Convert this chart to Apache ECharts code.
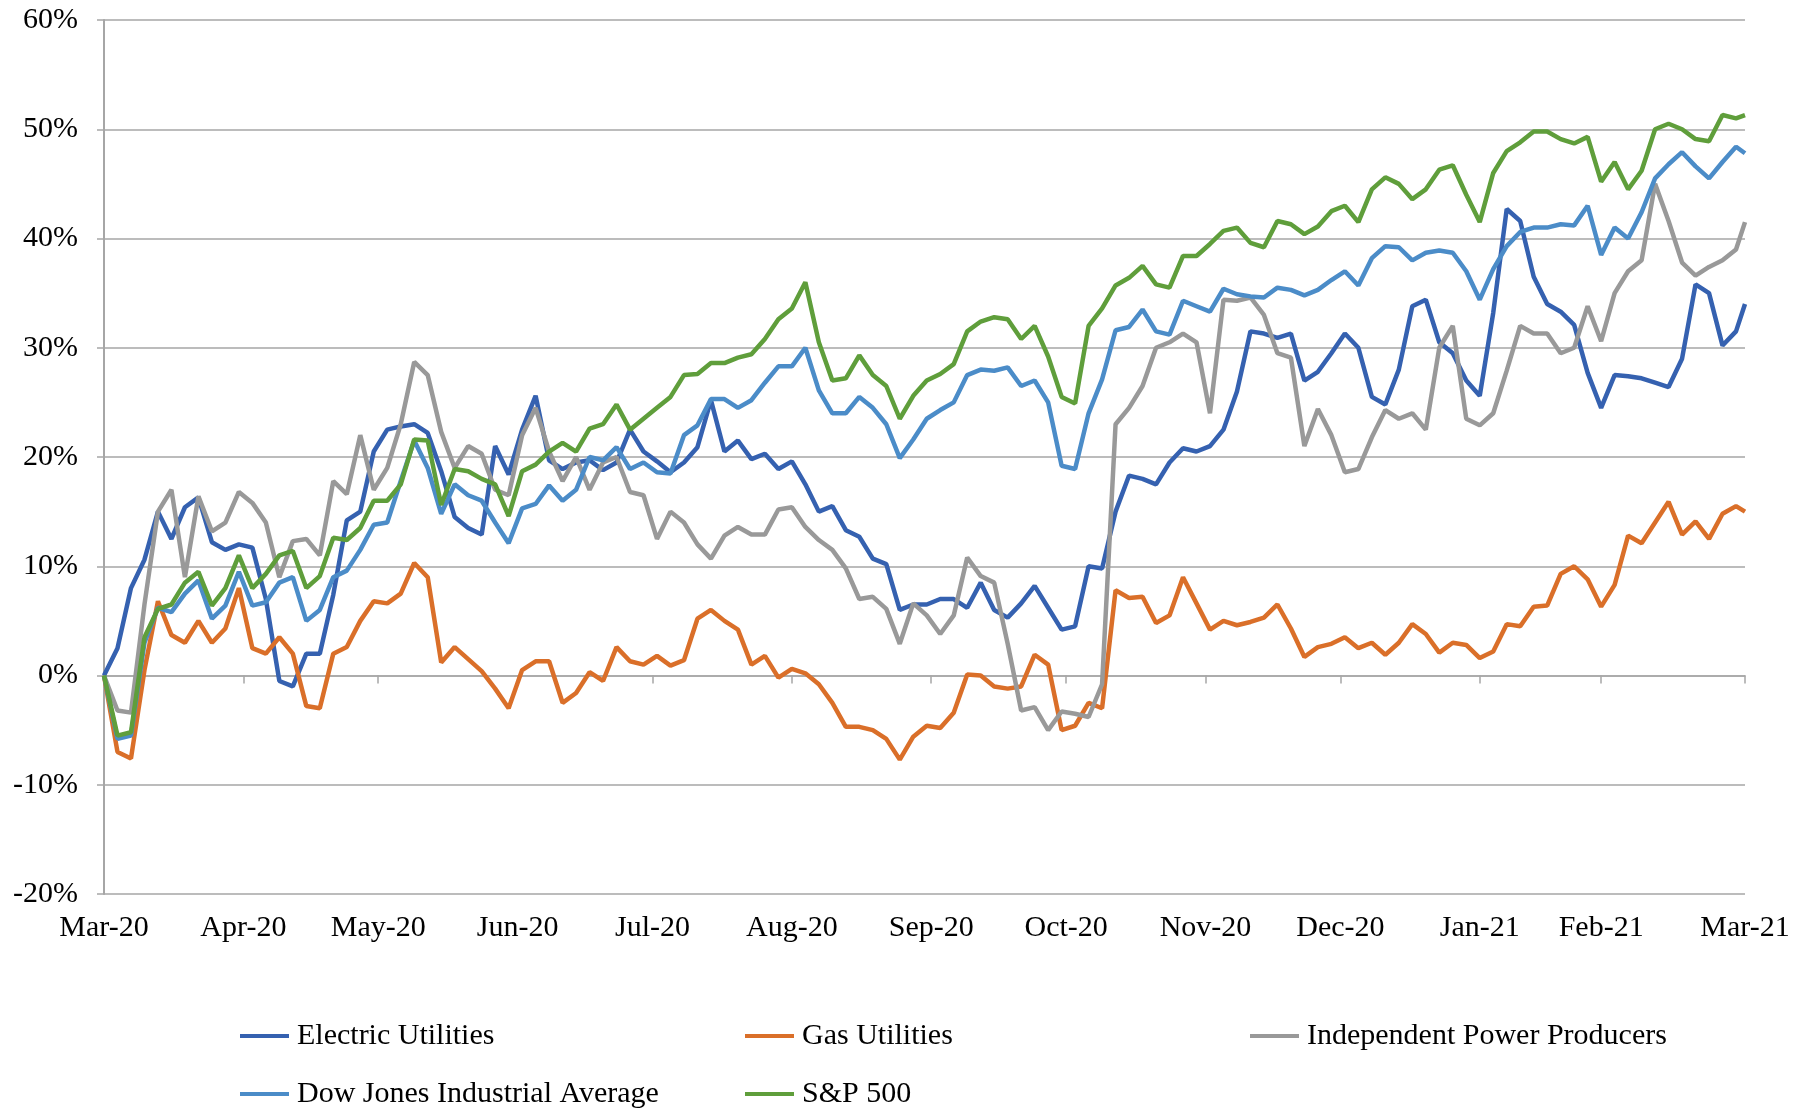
<!DOCTYPE html>
<html>
<head>
<meta charset="utf-8">
<title>Utilities vs market</title>
<script src="https://cdn.jsdelivr.net/npm/echarts@6/dist/echarts.min.js"></script>
<style>
    html, body { margin: 0; padding: 0; background: #fff; }
    #mainView { width: 1810px; height: 1111px; }
</style>
</head>
<body>
<div id="mainView"></div>
<script>
// x = days since 1 Mar 2020, one reading every 3 days (last one on 1 Mar 2021)
var days = [];
for (var d = 0; d <= 363; d += 3) days.push(d);
days.push(365);

var tickDays = [0, 31, 61, 92, 122, 153, 184, 214, 245, 275, 306, 333, 365];
var tickLabels = ['Mar-20', 'Apr-20', 'May-20', 'Jun-20', 'Jul-20', 'Aug-20', 'Sep-20',
    'Oct-20', 'Nov-20', 'Dec-20', 'Jan-21', 'Feb-21', 'Mar-21'];

var yTicks = [-20, -10, 0, 10, 20, 30, 40, 50, 60];

var names = ['Electric Utilities', 'Gas Utilities', 'Independent Power Producers',
    'Dow Jones Industrial Average', 'S&P 500'];

// cumulative return, %
var electric = [0, 2.5, 8, 10.6, 15, 12.5, 15.4, 16.3, 12.2, 11.5,
    12, 11.7, 7, -0.5, -1, 2, 2, 7.4, 14.2, 15,
    20.5, 22.5, 22.8, 23, 22.2, 18.7, 14.5, 13.5, 12.9, 21,
    18.4, 22.5, 25.6, 19.7, 18.9, 19.5, 19.7, 18.8, 19.5, 22.5,
    20.5, 19.6, 18.6, 19.5, 20.9, 25.2, 20.5, 21.5, 19.8, 20.3,
    18.9, 19.6, 17.5, 15, 15.5, 13.3, 12.7, 10.7, 10.2, 6,
    6.5, 6.5, 7, 7, 6.2, 8.5, 6, 5.3, 6.6, 8.2,
    6.2, 4.2, 4.5, 10, 9.8, 15, 18.3, 18, 17.5, 19.5,
    20.8, 20.5, 21, 22.5, 26, 31.5, 31.3, 30.9, 31.3, 27,
    27.8, 29.5, 31.3, 30, 25.5, 24.8, 28, 33.8, 34.4, 30.5,
    29.5, 27, 25.6, 33.2, 42.7, 41.6, 36.5, 34, 33.3, 32.1,
    27.7, 24.5, 27.5, 27.4, 27.2, 26.8, 26.4, 29, 35.8, 35,
    30.2, 31.5, 34];

var gas = [0, -7, -7.6, 0.5, 6.8, 3.7, 3, 5, 3, 4.3,
    8, 2.5, 2, 3.5, 2, -2.8, -3, 2, 2.6, 5,
    6.8, 6.6, 7.5, 10.3, 9, 1.2, 2.6, 1.5, 0.4, -1.2,
    -3, 0.5, 1.3, 1.3, -2.5, -1.6, 0.3, -0.5, 2.6, 1.3,
    1, 1.8, 0.9, 1.4, 5.2, 6, 5, 4.2, 1, 1.8,
    -0.2, 0.6, 0.2, -0.8, -2.5, -4.7, -4.7, -5, -5.8, -7.7,
    -5.6, -4.6, -4.8, -3.4, 0.1, 0, -1, -1.2, -1, 1.9,
    1, -5, -4.6, -2.5, -3, 7.8, 7.1, 7.2, 4.8, 5.5,
    9, 6.6, 4.2, 5, 4.6, 4.9, 5.3, 6.5, 4.3, 1.7,
    2.6, 2.9, 3.5, 2.5, 3, 1.9, 3, 4.7, 3.8, 2.1,
    3, 2.8, 1.6, 2.2, 4.7, 4.5, 6.3, 6.4, 9.3, 10,
    8.8, 6.3, 8.3, 12.8, 12.1, 14, 15.9, 12.9, 14.1, 12.5,
    14.8, 15.5, 15];

var ipp = [0, -3.2, -3.4, 6.5, 15, 17, 9, 16.4, 13.2, 14,
    16.8, 15.8, 14, 9, 12.3, 12.5, 11, 17.8, 16.6, 22,
    17, 19, 23, 28.7, 27.5, 22.3, 19, 21, 20.3, 17,
    16.5, 22, 24.5, 20.5, 17.8, 20, 17, 19.5, 20, 16.8,
    16.5, 12.5, 15, 14, 12, 10.7, 12.8, 13.6, 12.9, 12.9,
    15.2, 15.4, 13.6, 12.4, 11.5, 9.8, 7, 7.2, 6.1, 2.9,
    6.6, 5.5, 3.8, 5.5, 10.8, 9.1, 8.5, 2.9, -3.2, -2.9,
    -5, -3.3, -3.5, -3.8, -0.8, 23, 24.5, 26.5, 30, 30.5,
    31.3, 30.5, 24, 34.4, 34.3, 34.6, 33, 29.5, 29.1, 21,
    24.4, 22, 18.6, 18.9, 21.8, 24.3, 23.5, 24, 22.5, 30,
    32, 23.5, 22.9, 24, 27.9, 32, 31.3, 31.3, 29.5, 30,
    33.8, 30.6, 35, 37, 38, 45, 41.6, 37.8, 36.6, 37.4,
    38, 39, 41.5];

var dow = [0, -5.8, -5.5, 3, 6.2, 5.8, 7.5, 8.7, 5.2, 6.4,
    9.5, 6.4, 6.7, 8.5, 9, 5, 6, 9, 9.6, 11.5,
    13.8, 14, 17.8, 21.5, 19, 14.8, 17.5, 16.5, 16, 14,
    12.1, 15.3, 15.7, 17.4, 16, 17, 20, 19.7, 20.9, 18.9,
    19.5, 18.6, 18.5, 22, 22.9, 25.3, 25.3, 24.5, 25.2, 26.8,
    28.3, 28.3, 30, 26.1, 24, 24, 25.5, 24.5, 23, 19.9,
    21.6, 23.5, 24.3, 25, 27.5, 28, 27.9, 28.2, 26.5, 27,
    25, 19.2, 18.9, 24, 27.1, 31.6, 31.9, 33.5, 31.5, 31.2,
    34.3, 33.8, 33.3, 35.4, 34.9, 34.7, 34.6, 35.5, 35.3, 34.8,
    35.3, 36.2, 37, 35.7, 38.2, 39.3, 39.2, 38, 38.7, 38.9,
    38.7, 37, 34.4, 37.2, 39.3, 40.6, 41, 41, 41.3, 41.2,
    43, 38.5, 41, 40, 42.4, 45.5, 46.8, 47.9, 46.6, 45.5,
    47, 48.4, 47.8];

var sp500 = [0, -5.5, -5.2, 3.5, 6.1, 6.5, 8.5, 9.5, 6.4, 8,
    11, 8, 9.3, 11, 11.4, 8, 9.1, 12.6, 12.4, 13.5,
    16, 16, 17.5, 21.6, 21.5, 15.6, 18.9, 18.7, 18, 17.5,
    14.6, 18.7, 19.3, 20.5, 21.3, 20.5, 22.6, 23, 24.8, 22.5,
    23.5, 24.5, 25.5, 27.5, 27.6, 28.6, 28.6, 29.1, 29.4, 30.8,
    32.6, 33.6, 36, 30.5, 27, 27.2, 29.3, 27.5, 26.5, 23.5,
    25.6, 27, 27.6, 28.5, 31.5, 32.4, 32.8, 32.6, 30.8, 32,
    29.2, 25.5, 24.9, 32, 33.6, 35.7, 36.4, 37.5, 35.8, 35.5,
    38.4, 38.4, 39.5, 40.7, 41, 39.6, 39.2, 41.6, 41.3, 40.4,
    41.1, 42.5, 43, 41.5, 44.5, 45.6, 45, 43.6, 44.5, 46.3,
    46.7, 44, 41.5, 46, 48, 48.8, 49.8, 49.8, 49.1, 48.7,
    49.3, 45.2, 47, 44.5, 46.2, 50, 50.5, 50, 49.1, 48.9,
    51.3, 51, 51.3];

var colors = ['#3561b0', '#da6f29', '#999999', '#4b8cc8', '#5f9e3b'];

showMainView();

function pairs(vals) {
    return vals.map(function (v, i) { return [days[i], v]; });
}

function showMainView() {
    var chart = echarts.init(document.getElementById('mainView'));
    var font = 'Liberation Serif';
    var axisGray = '#a6a6a6';

    var legendPos = [[240, 1021], [745, 1021], [1250, 1021], [240, 1079], [745, 1079]];
    var legends = names.map(function (n, i) {
        return {
            data: [n],
            left: legendPos[i][0],
            top: legendPos[i][1],
            padding: 0,
            icon: 'rect',
            itemWidth: 49,
            itemHeight: 4,
            textStyle: { fontFamily: font, fontSize: 30, color: '#000', padding: [0, 0, 0, 3] }
        };
    });

    var seriesData = [electric, gas, ipp, dow, sp500];

    chart.setOption({
        animation: false,
        backgroundColor: '#fff',
        color: colors,
        legend: legends,
        grid: {
            left: 104,
            right: 65,
            top: 20,
            bottom: 217,
            containLabel: false,
            outerBoundsMode: 'none'
        },
        xAxis: [
            {
                // axis line crossing at 0% with month ticks
                type: 'value',
                min: 0,
                max: 365,
                axisLine: { onZero: true, lineStyle: { color: axisGray, width: 1.5 } },
                axisTick: { show: true, length: 8, customValues: tickDays, lineStyle: { color: axisGray, width: 1.5 } },
                axisLabel: { show: false },
                splitLine: { show: false }
            },
            {
                // month labels along the bottom
                type: 'value',
                position: 'bottom',
                min: 0,
                max: 365,
                axisLine: { show: false, onZero: false },
                axisTick: { show: false },
                splitLine: { show: false },
                axisLabel: {
                    margin: 19,
                    customValues: tickDays,
                    fontFamily: font,
                    fontSize: 30,
                    color: '#000',
                    formatter: function (v) {
                        return tickLabels[tickDays.indexOf(v)];
                    }
                }
            }
        ],
        yAxis: {
            type: 'value',
            min: yTicks[0],
            max: yTicks[yTicks.length - 1],
            interval: 10,
            axisLine: { show: true, lineStyle: { color: axisGray, width: 2 } },
            axisTick: { show: true, inside: false, length: 7, lineStyle: { color: axisGray, width: 1.5 } },
            axisLabel: {
                margin: 26,
                fontFamily: font,
                fontSize: 30,
                color: '#000',
                formatter: '{value}%'
            },
            splitLine: { lineStyle: { color: axisGray, width: 1.5 } }
        },
        series: names.map(function (n, i) {
            return {
                name: n,
                type: 'line',
                xAxisIndex: 0,
                symbol: 'none',
                lineStyle: { width: 4.5, color: colors[i] },
                itemStyle: { color: colors[i] },
                data: pairs(seriesData[i])
            };
        })
    });
}
</script>
</body>
</html>
